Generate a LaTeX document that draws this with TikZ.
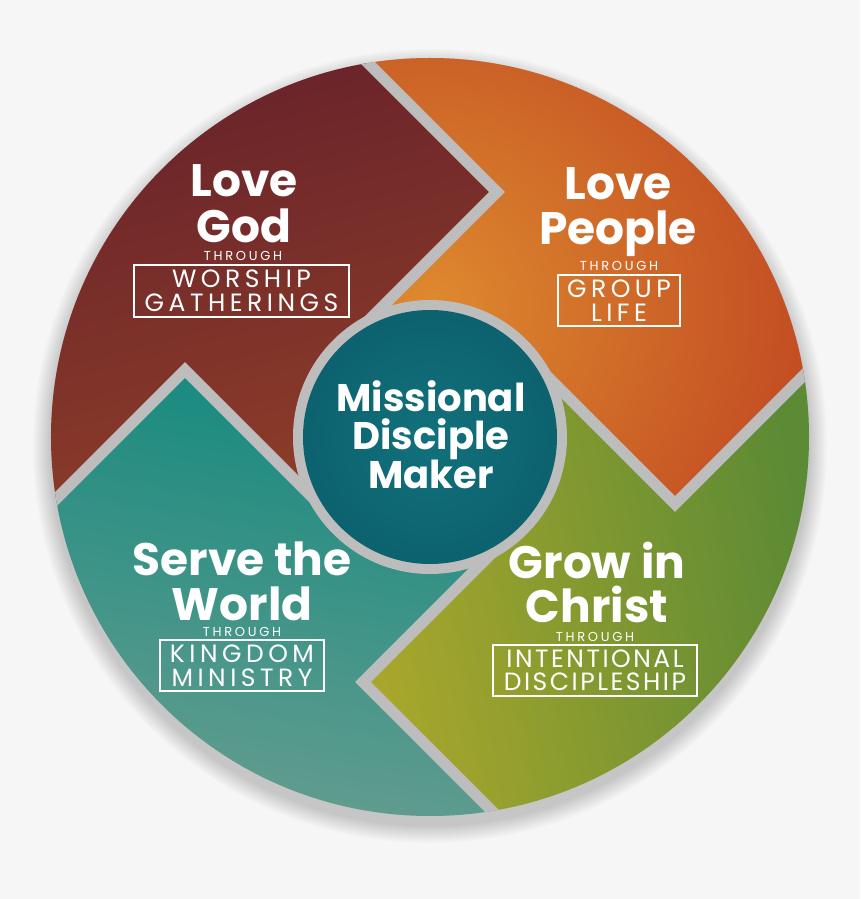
\documentclass[tikz,border=0pt]{standalone}
\usepackage{fontspec}
\setmainfont{Poppins}
\newfontfamily\trackfont{Poppins}[LetterSpace=18]
\newfontfamily\plainfont{Poppins}[LetterSpace=10]
\newfontfamily\thrfont{Poppins}[LetterSpace=21]
\definecolor{bgc}{HTML}{F6F6F6}
\definecolor{gapc}{HTML}{BDBDBD}
\definecolor{redtop}{HTML}{68222A}
\definecolor{redbot}{HTML}{8E3E29}
\definecolor{orin}{HTML}{DE8A2E}
\definecolor{orout}{HTML}{B8361F}
\definecolor{grleft}{HTML}{ABA82B}
\definecolor{grright}{HTML}{5C8A35}
\definecolor{tltop}{HTML}{14897F}
\definecolor{tlbot}{HTML}{649D8F}
\definecolor{cin}{HTML}{12717C}
\definecolor{cout}{HTML}{0C626E}
\tikzset{
  ttl/.style={font=\fontsize{45.5}{45.5}\selectfont\bfseries, text=white, anchor=base, inner sep=0pt},
  ctr/.style={font=\fontsize{38.5}{38.5}\selectfont\bfseries, text=white, anchor=base, inner sep=0pt},
  thr/.style={font=\thrfont\fontsize{13}{13}\selectfont, text=white, anchor=base, inner sep=0pt},
  boxs/.style={draw=white, line width=1.3pt, text=white, align=center, inner sep=0pt,
    font=\trackfont\fontsize{25}{24}\selectfont},
  gap/.style={draw=gapc, line width=11pt, line join=miter, miter limit=10}
}
\begin{document}
\begin{tikzpicture}[x=1pt,y=1pt]
\useasboundingbox (-430,-462) rectangle (430,437);
\fill[bgc] (-430,-462) rectangle (430,437);
% soft shadow, mostly below the disc
\foreach \i in {1,...,12}{\fill[black,opacity=0.014] (0,-9) circle ({379+\i*1.5});}
\fill[gapc] (0,0) circle (379);
% vertices
\coordinate (P1) at (67,245);
\coordinate (P2) at (245,-67);
\coordinate (P3) at (-67,-245);
\coordinate (P4) at (-245,67);
\coordinate (O1) at (-333,645);
\coordinate (O2) at (645,333);
\coordinate (O3) at (333,-645);
\coordinate (O4) at (-645,-333);
\coordinate (I1) at (-83,95);
\coordinate (I2) at (95,83);
\coordinate (I3) at (83,-95);
\coordinate (I4) at (-95,-83);
\coordinate (C) at (0,0);
\begin{scope}
\clip (0,0) circle (379);
% Love God piece
\begin{scope}
\clip (C) -- (I4) -- (P4) -- (O4) -- (-645,645) -- (O1) -- (P1) -- (I1) -- cycle;
\shade[top color=redtop, bottom color=redbot, shading angle=15] (-385,-70) rectangle (80,385);
\end{scope}
% Love People piece
\begin{scope}
\clip (C) -- (I1) -- (P1) -- (O1) -- (645,645) -- (O2) -- (P2) -- (I2) -- cycle;
\shade[inner color=orin, outer color=orout] (0,130) circle (520);
\end{scope}
% Grow piece
\begin{scope}
\clip (C) -- (I2) -- (P2) -- (O2) -- (645,-645) -- (O3) -- (P3) -- (I3) -- cycle;
\shade[left color=grleft, right color=grright, shading angle=100] (-80,-385) rectangle (385,70);
\end{scope}
% Serve piece
\begin{scope}
\clip (C) -- (I3) -- (P3) -- (O3) -- (-645,-645) -- (O4) -- (P4) -- (I4) -- cycle;
\shade[top color=tltop, bottom color=tlbot, shading angle=-10] (-385,-385) rectangle (70,80);
\end{scope}
% gaps
\draw[gap] (O1) -- (P1) -- (I1);
\draw[gap] (O2) -- (P2) -- (I2);
\draw[gap] (O3) -- (P3) -- (I3);
\draw[gap] (O4) -- (P4) -- (I4);
\end{scope}
% centre
\fill[gapc] (C) circle (137);
\shade[inner color=cin, outer color=cout] (C) circle (127);
% texts: Love God
\node[ttl] (lg1) at (-186,240) {Love};
\node[ttl] (lg2) at (-186,194) {God};
\node[thr] (lg3) at (-187,176) {THROUGH};
\node[boxs, minimum width=215, minimum height=52] (lg4) at (-188.5,146) {WORSHIP\\GATHERINGS};
% Love People
\node[ttl] (lp1) at (188,237) {Love};
\node[ttl] (lp2) at (188,192) {People};
\node[thr] (lp3) at (189,166) {THROUGH};
\node[boxs, minimum width=122, minimum height=51] (lp4) at (189,136.5) {GROUP\\LIFE};
% centre text
\node[ctr] (c1) at (1,25) {Missional};
\node[ctr] (c2) at (1,-13) {Disciple};
\node[ctr] (c3) at (1,-52) {Maker};
% Serve the World
\node[ttl] (sw1) at (-188,-138) {Serve the};
\node[ttl] (sw2) at (-188,-183) {World};
\node[thr] (sw3) at (-188,-199) {THROUGH};
\node[boxs, minimum width=164, minimum height=51] (sw4) at (-188,-228.5) {KINGDOM\\MINISTRY};
% Grow in Christ
\node[ttl] (gc1) at (167,-141) {Grow in};
\node[ttl] (gc2) at (167,-185) {Christ};
\node[thr] (gc3) at (165,-204) {THROUGH};
\node[boxs, minimum width=204, minimum height=51, font=\plainfont\fontsize{25}{23}\selectfont] (gc4) at (165,-233.5) {INTENTIONAL\\DISCIPLESHIP};
\end{tikzpicture}
\end{document}
